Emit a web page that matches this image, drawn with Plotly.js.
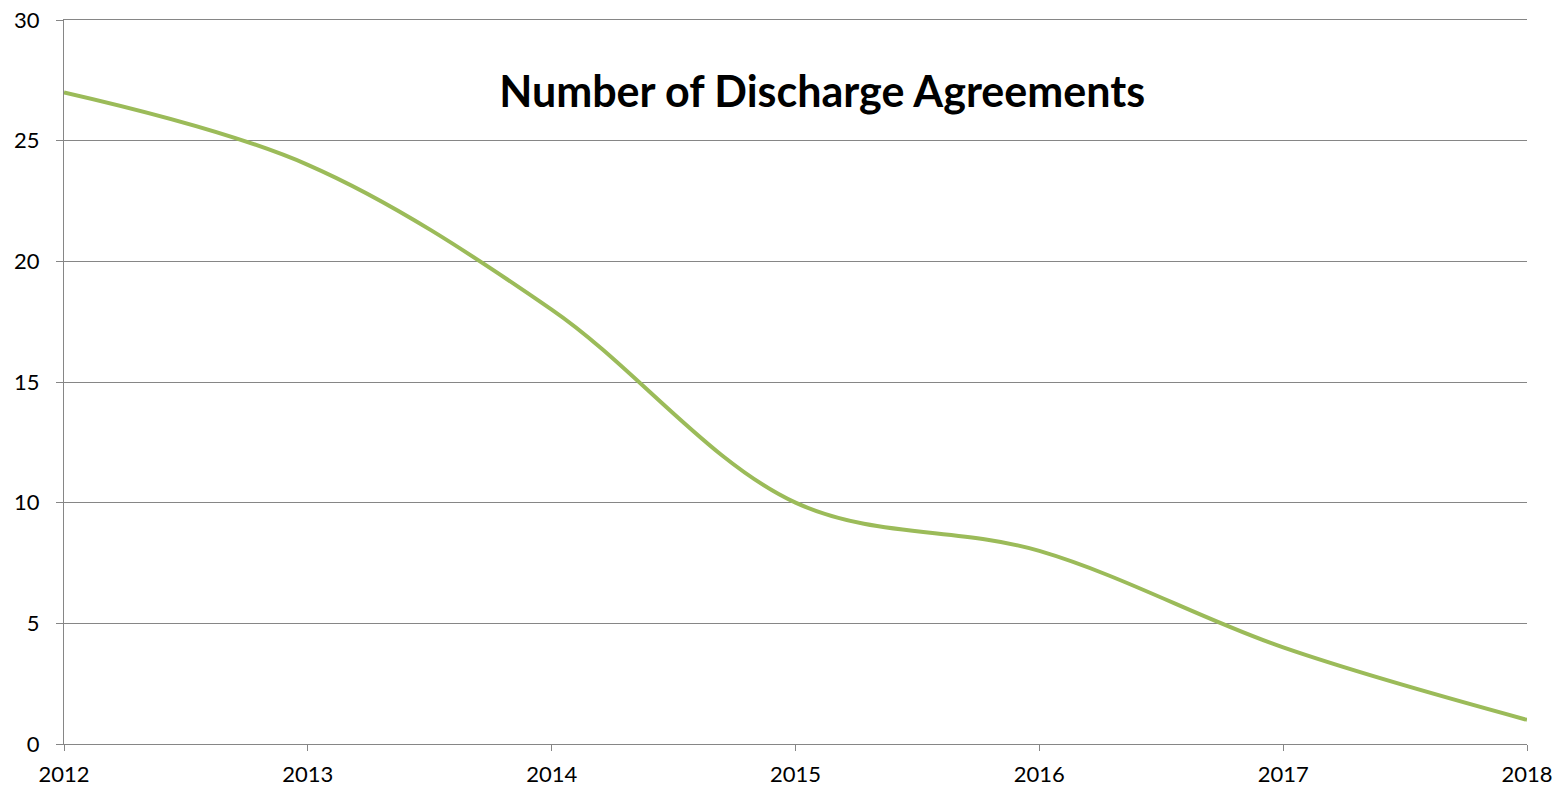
<!DOCTYPE html>
<html><head><meta charset="utf-8">
<script src="https://cdn.plot.ly/plotly-3.0.1.min.js"></script>
<style>html,body{margin:0;padding:0;background:#fff;}#chart{width:1566px;height:793px;}</style>
</head><body><div id="chart"></div>
<script>
const years = [2012, 2013, 2014, 2015, 2016, 2017, 2018];
const agreements = [27, 24, 18, 10, 8, 4, 1];
const yTicks = [0, 5, 10, 15, 20, 25, 30];
const chartTitle = "Number of Discharge Agreements";

const fontFam = "Lato, 'Open Sans', sans-serif";
Plotly.newPlot('chart', [{
  x: years, y: agreements, type: 'scatter', mode: 'lines',
  line: {color: '#9BBB59', width: 4, shape: 'spline', smoothing: 1},
  hoverinfo: 'x+y'
}], {
  width: 1566, height: 793,
  margin: {l: 64, r: 39, t: 20, b: 49},
  paper_bgcolor: '#fff', plot_bgcolor: '#fff',
  showlegend: false,
  title: {text: '<b>' + chartTitle + '</b>', x: 0.525, xanchor: 'center', y: 0.884, yanchor: 'middle', yref: 'container',
    font: {family: fontFam, size: 43, color: '#000'}},
  xaxis: {range: [2012, 2018], tickvals: years, ticktext: years.map(String), showgrid: false, zeroline: false,
    showline: true, mirror: true, linecolor: '#868686', linewidth: 1, ticks: 'outside', ticklen: 6, tickcolor: '#868686',
    tickfont: {family: fontFam, size: 22, color: '#000'}, ticklabelstandoff: 5, fixedrange: true},
  yaxis: {range: [0, 30], tickvals: yTicks, showgrid: true, gridcolor: '#868686', gridwidth: 1, zeroline: false,
    showline: true, linecolor: '#868686', linewidth: 1, ticks: 'outside', ticklen: 7, tickcolor: '#868686',
    tickfont: {family: fontFam, size: 22, color: '#000'}, ticklabelstandoff: 12, fixedrange: true}
}, {displayModeBar: false, staticPlot: true});
</script></body></html>
